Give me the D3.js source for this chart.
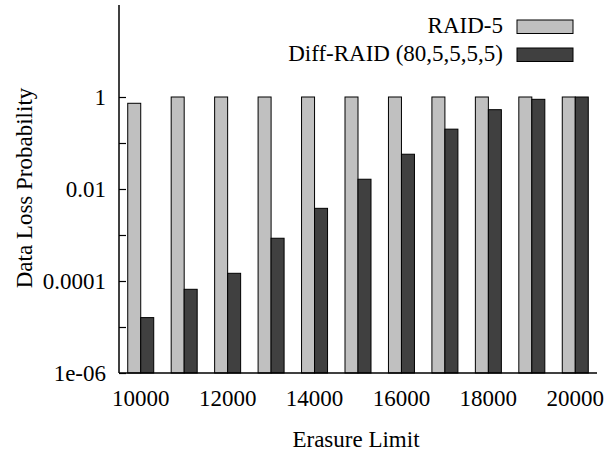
<!DOCTYPE html>
<html><head><meta charset="utf-8">
<script src="https://cdn.jsdelivr.net/npm/d3@7"></script>
<style>body{margin:0;background:#fff}svg{display:block}text{font-family:"Liberation Serif","Times New Roman",serif;fill:#000}</style>
</head><body>
<script>
const categories = [10000,11000,12000,13000,14000,15000,16000,17000,18000,19000,20000];
const seriesNames = ["RAID-5","Diff-RAID (80,5,5,5,5)"];
const raid5 = [0.73,1,1,1,1,1,1,1,1,1,1];
const diffRaid = [1.6e-5,6.6e-5,1.47e-4,8.5e-4,3.8e-3,0.0163,0.057,0.2,0.53,0.89,1];
const xTickLabels = [10000,12000,14000,16000,18000,20000];
const yTickValues = [1e-6,1e-5,1e-4,1e-3,1e-2,1e-1,1];
const yTickLabels = ["1e-06","","0.0001","","0.01","","1"];
const colors = ["#c0c0c0","#404040"];

const W=609,H=452;
const svg=d3.select("body").append("svg").attr("width",W).attr("height",H);
const x=d3.scaleBand().domain(categories).range([119,597]);
const y=d3.scaleLog().domain([1e-6,100]).range([373,5]);
const bw=13;
const series=[raid5,diffRaid];
series.forEach((vals,si)=>{
  svg.append("g").selectAll("rect").data(categories).join("rect")
    .attr("x",d=>x(d)+x.bandwidth()/2-bw+si*bw)
    .attr("y",(d,i)=>y(vals[i]))
    .attr("width",bw)
    .attr("height",(d,i)=>y(1e-6)-y(vals[i]))
    .attr("fill",colors[si]).attr("stroke","#000").attr("stroke-width",1);
});
// axes
const yAxis=d3.axisLeft(y).tickValues(yTickValues).tickSize(-7).tickFormat((d,i)=>yTickLabels[i]);
const gy=svg.append("g").attr("transform","translate(119,0)").call(yAxis);
gy.select(".domain").remove();
gy.selectAll(".tick text").attr("x",-13).style("font-size","23px").style("font-family","Liberation Serif").attr("fill","#000");
gy.selectAll(".tick line").attr("stroke","#000").attr("stroke-width",1.2);
svg.append("line").attr("x1",119).attr("x2",119).attr("y1",y.range()[1]).attr("y2",373).attr("stroke","#000").attr("stroke-width",1.5);
const xAxis=d3.axisBottom(x).tickValues(xTickLabels).tickSize(0).tickPadding(17);
const gx=svg.append("g").attr("transform","translate(0,373)").call(xAxis);
gx.select(".domain").remove();
gx.selectAll(".tick text").style("font-size","23px").style("font-family","Liberation Serif").attr("fill","#000");
svg.append("line").attr("x1",119).attr("x2",597).attr("y1",373).attr("y2",373).attr("stroke","#000").attr("stroke-width",1.5);
// labels
svg.append("text").attr("x",356).attr("y",447).attr("text-anchor","middle").style("font-size","23px").text("Erasure Limit");
svg.append("text").attr("transform","translate(32,188) rotate(-90)").attr("text-anchor","middle").style("font-size","23px").text("Data Loss Probability");
// legend
seriesNames.forEach((n,i)=>{
  const yy=20+i*28;
  svg.append("rect").attr("x",517).attr("y",yy).attr("width",56).attr("height",13.5).attr("fill",colors[i]).attr("stroke","#000").attr("stroke-width",1);
  svg.append("text").attr("x",503).attr("y",yy+12.5).attr("text-anchor","end").style("font-size","23px").text(n);
});
</script>
</body></html>
